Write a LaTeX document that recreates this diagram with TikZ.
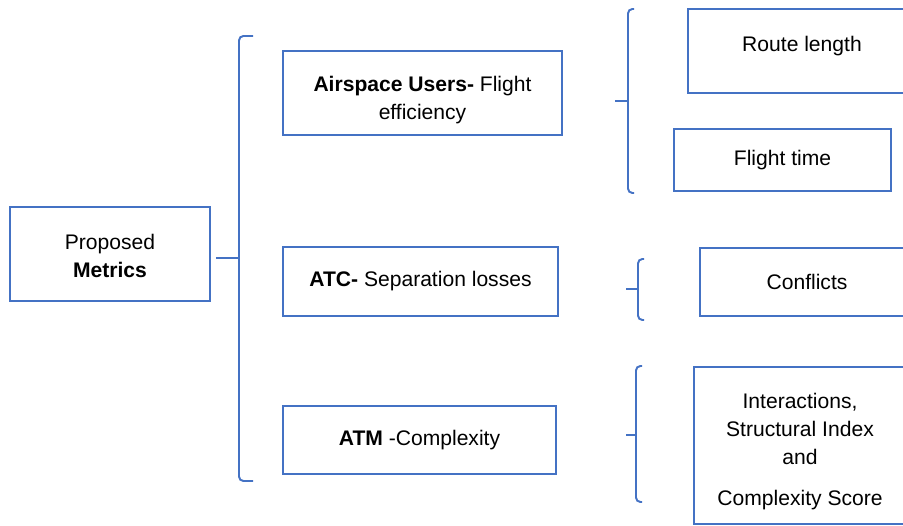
\documentclass[tikz,border=0pt]{standalone}
\usepackage{fontspec}
\setmainfont{Liberation Sans}
\usepackage{xcolor}
\usetikzlibrary{positioning,calc}
\definecolor{boxblue}{HTML}{4472C4}

\begin{document}
\begin{tikzpicture}[x=0.02cm,y=-0.02cm,
  every node/.style={font=\fontsize{12}{15.9}\selectfont},
  mbox/.style={draw=boxblue,line width=1.1pt,align=center,inner sep=2pt},
  brc/.style={draw=boxblue,line width=1.1pt,rounded corners=2.5pt}]
 \useasboundingbox (0,0) rectangle (903,526);
 % left column
 \node[mbox,minimum width=4cm,minimum height=1.88cm] (pm) at (110,254) {\rule{0pt}{11pt}Proposed\\\textbf{Metrics}};
 % middle column
 \node[mbox,minimum width=5.58cm,minimum height=1.68cm] (au)  at (422.5,93)  {\rule{0pt}{17pt}\textbf{Airspace Users-} Flight\\efficiency};
 \node[mbox,minimum width=5.5cm,minimum height=1.38cm]  (atc) at (420.5,281.5) {\textbf{ATC-} Separation losses};
 \node[mbox,minimum width=5.46cm,minimum height=1.36cm] (atm) at (419.5,440) {\textbf{ATM} -Complexity};
 % right column
 \node[mbox,minimum width=4.56cm,minimum height=1.68cm] (rl) at (802,51)    {Route length\rule[-8pt]{0pt}{0pt}};
 \node[mbox,minimum width=4.34cm,minimum height=1.24cm] (ft) at (782.5,160) {Flight time};
 \node[mbox,minimum width=4.28cm,minimum height=1.36cm] (cf) at (807,282)   {Conflicts};
 \node[mbox,minimum width=4.24cm,minimum height=3.14cm] (cs) at (800,445.5)
   {\rule{0pt}{15.6pt}Interactions,\\Structural Index\\and\\[0.26cm]Complexity Score};
 % brackets
 \coordinate (b1) at (239,258);
 \coordinate (b2) at (628,101);
 \coordinate (b3) at (638,289);
 \coordinate (b4) at (636,435);
 \draw[brc] (253,36) -- (239,36) -- (239,481) -- (253,481);
 \draw[brc] ([xshift=0.1cm]pm.east |- b1) -- (b1);
 \draw[brc] (634,9) -- (628,9) -- (628,193) -- (634,193);
 \draw[brc] (615,101) -- (b2);
 \draw[brc] (644,259) -- (638,259) -- (638,320) -- (644,320);
 \draw[brc] (626,289) -- (b3);
 \draw[brc] (642,366) -- (636,366) -- (636,502) -- (642,502);
 \draw[brc] (626,435) -- (b4);
\end{tikzpicture}
\end{document}
